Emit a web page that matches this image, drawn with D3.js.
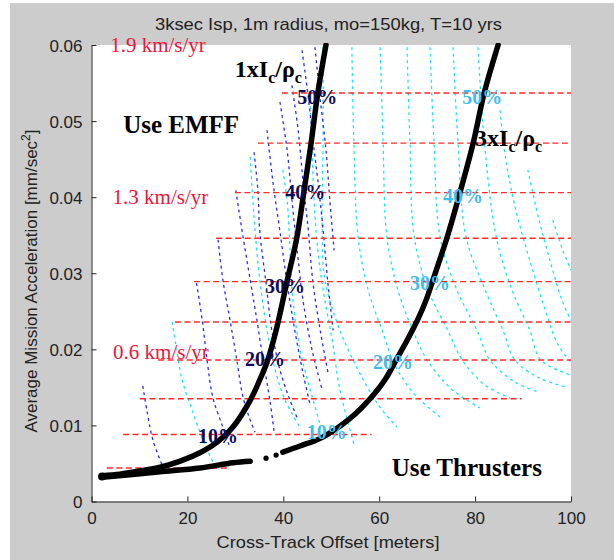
<!DOCTYPE html>
<html>
<head>
<meta charset="utf-8">
<script src="https://cdn.jsdelivr.net/npm/d3@7/dist/d3.min.js"></script>
<style>
  body { margin: 0; background: #fff; }
</style>
</head>
<body>
<div id="chart"></div>
<script>
const width = 614;
const height = 560;

// axis ticks
const xTicks = [0, 20, 40, 60, 80, 100];
const yTicks = [0, 0.01, 0.02, 0.03, 0.04, 0.05, 0.06];

// red dashed delta-V levels (5% .. 50%)
const redLevels = [0.0537, 0.0471, 0.0406, 0.0346, 0.0289, 0.0236, 0.0186, 0.0135, 0.0088, 0.0044];
const redStart  = [39.7, 34.7, 29.9, 26.0, 21.4, 17.4, 13.9, 10.1, 6.6, 3.2];
const redEnd    = [100, 100, 100, 100, 100, 100, 100, 89.7, 58.4, 28.9];

// black boundary curves
const curve1 = [[2.2,0.0034],[5.9,0.0036],[10.1,0.0040],[14.3,0.0045],[18.5,0.0053],[22.6,0.0064],
  [26.2,0.0078],[29.5,0.0098],[33.1,0.0133],[35.1,0.0160],[36.6,0.0183],[38.5,0.0225],[40.8,0.0290],
  [42.8,0.0346],[44.3,0.0407],[45.8,0.0471],[47.2,0.0537],[48.9,0.0600]];
const curve2 = [[2.2,0.0032],[8.0,0.0035],[14.3,0.0039],[22.6,0.0044],[29.5,0.0051],[33.1,0.0053]];
const curve2Dots = [[36.4,0.0057],[38.5,0.0061]];
const curve2Upper = [[39.9,0.0065],[43.5,0.0073],[47.7,0.0083],[51.8,0.0099],[55.0,0.0115],[58.1,0.0135],
  [61.2,0.0160],[63.7,0.0188],[66.0,0.0214],[68.1,0.0240],[69.8,0.0265],[71.2,0.0291],[74.1,0.0346],
  [76.8,0.0405],[79.6,0.0471],[81.9,0.0537],[84.8,0.0600]];

// blue dotted curves
const blueCurves = [
  [[10.7,0.0152],[11.6,0.0118],[12.8,0.0081],[14.9,0.0045]],
  [[21.9,0.0287],[23.1,0.0238],[24.1,0.0186],[25.3,0.0137],[27.2,0.0101],[28.7,0.0074]],
  [[26.4,0.0344],[27.4,0.0291],[28.9,0.0238],[30.3,0.0186],[31.6,0.0137],[33.1,0.0107],[34.1,0.0091]],
  [[30.1,0.0409],[31.6,0.0348],[33.1,0.0291],[34.5,0.0238],[35.8,0.0186],[37.2,0.0133],[38.1,0.0091]],
  [[33.9,0.0459],[34.7,0.0409],[35.1,0.0355],[36.4,0.0287],[37.6,0.0225],[39.3,0.0173],[41.4,0.0133],[43.1,0.0107]],
  [[36.6,0.0488],[37.9,0.0417],[39.3,0.0355],[40.8,0.0287],[42.4,0.0225],[44.1,0.0169],[45.6,0.0127]],
  [[39.3,0.0525],[40.8,0.0462],[41.8,0.0396],[42.9,0.0330],[44.1,0.0265],[46.0,0.0199],[48.1,0.0147]],
  [[41.8,0.0547],[43.1,0.0488],[44.1,0.0422],[45.2,0.0357],[46.2,0.0287],[47.7,0.0225],[49.3,0.0170]],
  [[43.9,0.0593],[45.2,0.0532],[46.2,0.0474],[47.2,0.0422],[48.3,0.0357],[49.3,0.0287],[50.4,0.0225]],
  [[46.6,0.0597],[47.7,0.0528],[48.9,0.0462],[49.7,0.0396],[50.6,0.0330]]
];

// cyan dotted curves
const cyanCurves = [
  [[16.8,0.0236],[17.6,0.0206],[18.9,0.0160],[21.0,0.0120],[23.7,0.0074],[26.2,0.0041]],
  [[33.1,0.0453],[33.5,0.0409],[34.1,0.0357],[35.1,0.0291],[36.6,0.0225],[38.3,0.0173],[40.4,0.0133],[43.5,0.0097]],
  [[39.9,0.0436],[40.8,0.0396],[41.4,0.0330],[42.0,0.0265],[43.5,0.0199],[45.6,0.0147],[47.7,0.0101]],
  [[45.6,0.0528],[46.0,0.0462],[46.4,0.0396],[47.2,0.0330],[48.3,0.0278],[50.2,0.0212],[51.8,0.0147],[54.9,0.0072]],
  [[48.3,0.0597],[48.3,0.0475],[48.1,0.0355],[48.7,0.0291],[51.8,0.0225],[55.6,0.0173],[59.8,0.0127],[63.7,0.0098]],
  [[54.3,0.0597],[54.7,0.0475],[55.6,0.0348],[57.7,0.0278],[60.6,0.0225],[63.3,0.0179],[67.5,0.0140],[72.7,0.0111]],
  [[60.2,0.0597],[60.8,0.0475],[61.6,0.0348],[63.9,0.0278],[67.0,0.0225],[70.0,0.0186],[75.2,0.0147],[81.0,0.0123]],
  [[65.8,0.0597],[66.4,0.0475],[67.3,0.0348],[70.2,0.0278],[74.3,0.0225],[77.3,0.0186],[82.1,0.0153],[87.3,0.0136]],
  [[70.6,0.0597],[71.4,0.0475],[72.7,0.0348],[76.2,0.0278],[80.4,0.0225],[83.1,0.0186],[88.3,0.0157],[93.1,0.0144]],
  [[75.4,0.0597],[76.4,0.0475],[78.1,0.0348],[82.1,0.0278],[85.8,0.0225],[88.3,0.0186],[93.5,0.0162],[99.2,0.0150]],
  [[80.6,0.0597],[81.9,0.0475],[84.4,0.0348],[87.7,0.0278],[91.4,0.0225],[93.7,0.0186],[100,0.0166]],
  [[85.2,0.0514],[86.4,0.0449],[88.5,0.0383],[91.4,0.0317],[94.6,0.0252],[97.3,0.0206],[100,0.0183]],
  [[91.0,0.0436],[93.1,0.0376],[95.6,0.0317],[98.1,0.0265],[100,0.0238]],
  [[96.2,0.0370],[98.3,0.0330],[100,0.0304]]
];

// percent labels on the two curves
const pctText = ["50%", "40%", "30%", "20%", "10%"];
const navyAt  = [[42.9,0.0522],[40.4,0.0398],[36.2,0.0274],[32.0,0.0178],[22.2,0.0077]];
const cyanAt  = [[77.3,0.0522],[73.3,0.0392],[66.4,0.0278],[58.7,0.0174],[44.9,0.0082]];

// delta-V annotations
const dvText = ["1.9 km/s/yr", "1.3 km/s/yr", "0.6 km/s/yr"];
const dvAt   = [[3.9,0.0591],[4.4,0.0391],[4.5,0.0187]];

const svg = d3.select('#chart')
  .append('svg')
  .attr('width', width)
  .attr('height', height)
  .style('font-family', 'Liberation Sans, Arial, sans-serif');

// figure background
svg.append('rect').attr('x', 10).attr('y', 3).attr('width', width - 10).attr('height', height - 3)
  .attr('fill', '#cccccc');

const x = d3.scaleLinear().domain([0, 100]).range([91.5, 571]);
const y = d3.scaleLinear().domain([0, 0.06]).range([501.5, 45]);

svg.append('rect')
  .attr('x', x(0)).attr('y', y(0.06))
  .attr('width', x(100) - x(0)).attr('height', y(0) - y(0.06))
  .attr('fill', '#fff');

const plot = svg.append('g');
plot.append('clipPath').attr('id', 'clip')
  .append('rect').attr('x', x(0)).attr('y', y(0.06) - 2)
  .attr('width', x(100) - x(0) + 1).attr('height', y(0) - y(0.06) + 2);
const inner = plot.append('g').attr('clip-path', 'url(#clip)');

const line = d3.line().x(d => x(d[0])).y(d => y(d[1])).curve(d3.curveCatmullRom);

inner.selectAll('path.cyan')
  .data(cyanCurves)
  .enter().append('path')
  .attr('class', 'cyan')
  .attr('d', line)
  .attr('fill', 'none')
  .attr('stroke', '#19e6f5')
  .attr('stroke-width', 1.3)
  .attr('stroke-dasharray', '3,3.5');

inner.selectAll('path.blue')
  .data(blueCurves)
  .enter().append('path')
  .attr('class', 'blue')
  .attr('d', line)
  .attr('fill', 'none')
  .attr('stroke', '#2a2aff')
  .attr('stroke-width', 1.3)
  .attr('stroke-dasharray', '3,3.5');

inner.selectAll('line.red')
  .data(redLevels)
  .enter().append('line')
  .attr('class', 'red')
  .attr('x1', (d, i) => x(redStart[i]))
  .attr('x2', (d, i) => x(redEnd[i]))
  .attr('y1', d => y(d))
  .attr('y2', d => y(d))
  .attr('stroke', '#ff2a2a')
  .attr('stroke-width', 1.4)
  .attr('stroke-dasharray', '6,3.5');

// black boundary curves
const thick = (data, w) => inner.append('path')
  .attr('d', d3.line().x(d => x(d[0])).y(d => y(d[1])).curve(d3.curveCatmullRom)(data))
  .attr('fill', 'none')
  .attr('stroke', '#000')
  .attr('stroke-width', w)
  .attr('stroke-linecap', 'round')
  .attr('stroke-linejoin', 'round');

thick(curve1, 5.5);
thick(curve2, 5.5);
thick(curve2Upper, 5.5);
inner.selectAll('circle.dot')
  .data(curve2Dots)
  .enter().append('circle')
  .attr('class', 'dot')
  .attr('cx', d => x(d[0])).attr('cy', d => y(d[1])).attr('r', 2.6).attr('fill', '#000');
inner.append('circle').attr('cx', x(curve1[0][0])).attr('cy', y(0.0033)).attr('r', 4).attr('fill', '#000');

// axes (inward ticks, box off)
const xAxis = svg.append('g').attr('transform', `translate(0,${y(0)})`)
  .call(d3.axisBottom(x).tickValues(xTicks).tickSizeInner(-5).tickSizeOuter(0).tickPadding(10));
const yAxis = svg.append('g').attr('transform', `translate(${x(0)},0)`)
  .call(d3.axisLeft(y).tickValues(yTicks).tickSizeInner(-5).tickSizeOuter(0).tickPadding(9)
    .tickFormat(d => d === 0 ? '0' : d3.format('.2f')(d)));
[xAxis, yAxis].forEach(a => {
  a.select('.domain').attr('stroke', '#222');
  a.selectAll('.tick line').attr('stroke', '#222');
  a.selectAll('.tick text').attr('fill', '#222').style('font-size', '17px')
    .style('font-family', 'Liberation Sans, Arial, sans-serif');
});
yAxis.selectAll('.tick text').attr('dy', '0.36em');

// texts
svg.append('text').attr('x', 328.5).attr('y', 30).attr('text-anchor', 'middle')
  .attr('fill', '#222').style('font-size', '17px')
  .attr('textLength', 347).attr('lengthAdjust', 'spacingAndGlyphs')
  .text('3ksec Isp, 1m radius, mo=150kg, T=10 yrs');

svg.append('text').attr('x', 328).attr('y', 548).attr('text-anchor', 'middle')
  .attr('fill', '#222').style('font-size', '17px')
  .attr('textLength', 223).attr('lengthAdjust', 'spacingAndGlyphs')
  .text('Cross-Track Offset [meters]');

const ylab = svg.append('text')
  .attr('transform', 'translate(37,281) rotate(-90)')
  .attr('text-anchor', 'middle').attr('fill', '#222').style('font-size', '17px');
ylab.append('tspan').text('Average Mission Acceleration [mm/sec');
ylab.append('tspan').attr('dy', -7).style('font-size', '12px').text('2');
ylab.append('tspan').attr('dy', 7).text(']');

const serif = 'Liberation Serif, Times New Roman, serif';

svg.selectAll('text.dv')
  .data(dvText)
  .enter().append('text')
  .attr('class', 'dv')
  .attr('x', (d, i) => x(dvAt[i][0])).attr('y', (d, i) => y(dvAt[i][1]))
  .attr('fill', '#f0143c')
  .style('font-family', serif).style('font-size', '21px')
  .text(d => d);

svg.selectAll('text.navy')
  .data(pctText)
  .enter().append('text')
  .attr('class', 'navy')
  .attr('x', (d, i) => x(navyAt[i][0])).attr('y', (d, i) => y(navyAt[i][1]))
  .attr('fill', '#0c0c5c')
  .style('font-family', serif).style('font-size', '20px').style('font-weight', 'bold')
  .text(d => d);

svg.selectAll('text.cyanpct')
  .data(pctText)
  .enter().append('text')
  .attr('class', 'cyanpct')
  .attr('x', (d, i) => x(cyanAt[i][0])).attr('y', (d, i) => y(cyanAt[i][1]))
  .attr('fill', '#3cbef0')
  .style('font-family', serif).style('font-size', '20px').style('font-weight', 'bold')
  .text(d => d);

function rhoLabel(lead, px, py) {
  const t = svg.append('text').attr('x', x(px)).attr('y', y(py))
    .attr('fill', '#000')
    .style('font-family', serif).style('font-size', '24px').style('font-weight', 'bold');
  t.append('tspan').text(lead + 'xI');
  t.append('tspan').attr('dy', 6).style('font-size', '16px').text('c');
  t.append('tspan').attr('dy', -6).text('/\u03c1');
  t.append('tspan').attr('dy', 6).style('font-size', '16px').text('c');
}
rhoLabel('1', 29.9, 0.0558);
rhoLabel('3', 80.0, 0.0467);

svg.append('text').attr('x', x(6.6)).attr('y', y(0.0484))
  .style('font-family', serif).style('font-size', '25px').style('font-weight', 'bold')
  .text('Use EMFF');
svg.append('text').attr('x', x(62.6)).attr('y', y(0.0034))
  .style('font-family', serif).style('font-size', '25px').style('font-weight', 'bold')
  .text('Use Thrusters');
</script>
</body>
</html>
